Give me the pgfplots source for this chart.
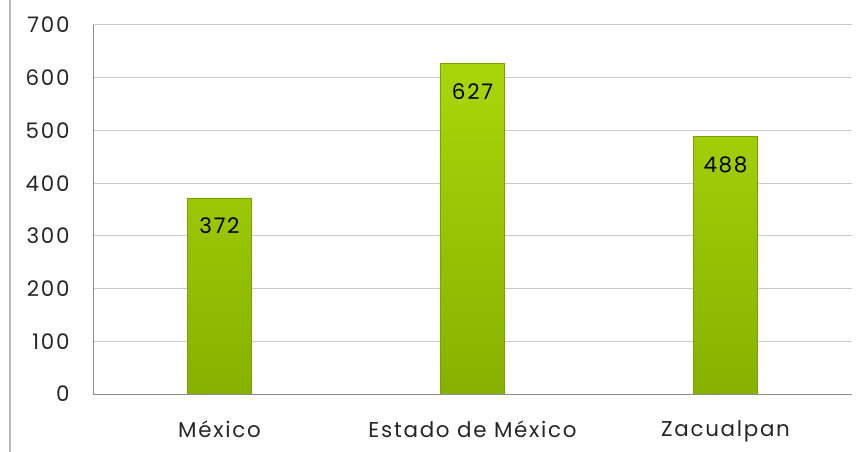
\documentclass[border=0pt]{standalone}
\usepackage{pgfplots}
\pgfplotsset{compat=1.18}
\usepackage{fontspec}
\setmainfont{Poppins}[LetterSpace=8]

\definecolor{bartop}{HTML}{A9D60A}
\definecolor{barbot}{HTML}{86B200}
\definecolor{baredge}{HTML}{7AA200}
\definecolor{gridc}{HTML}{C8C8C8}
\definecolor{axisc}{HTML}{8C8C8C}

\begin{document}
\begin{tikzpicture}
\useasboundingbox (0,0) rectangle (864bp,452bp);
\draw[gridc!80!gray, line width=1.2bp] (10bp,0) -- (10bp,452bp);
\begin{axis}[
	at={(93bp,58bp)}, anchor=south west,
	scale only axis,
	width=759bp, height=369bp,
	xmin=-0.5, xmax=2.5,
	ymin=0, ymax=700,
	ytick={0,100,...,700},
	xtick=data,
	xticklabels={México, Estado de México, Zacualpan},
	ymajorgrids,
	grid style={gridc, line width=1bp},
	axis x line*=bottom,
	axis y line*=left,
	axis line style={axisc, line width=1bp},
	major tick length=0pt,
	tick label style={font=\fontsize{21.5}{24}\selectfont, text=black!85},
	yticklabel style={xshift=-20bp},
	xticklabel style={yshift=-23bp},
	/pgf/number format/assume math mode=true,
	ybar, bar width=64bp,
	nodes near coords,
	nodes near coords style={font=\fontsize{21.5}{24}\selectfont, anchor=north, yshift=-16bp, text=black},
]
\addplot[draw=baredge, line width=0.8bp, top color=bartop, bottom color=barbot] coordinates {
(0,372)
(1,627)
(2,488)
};
\end{axis}
\end{tikzpicture}
\end{document}
